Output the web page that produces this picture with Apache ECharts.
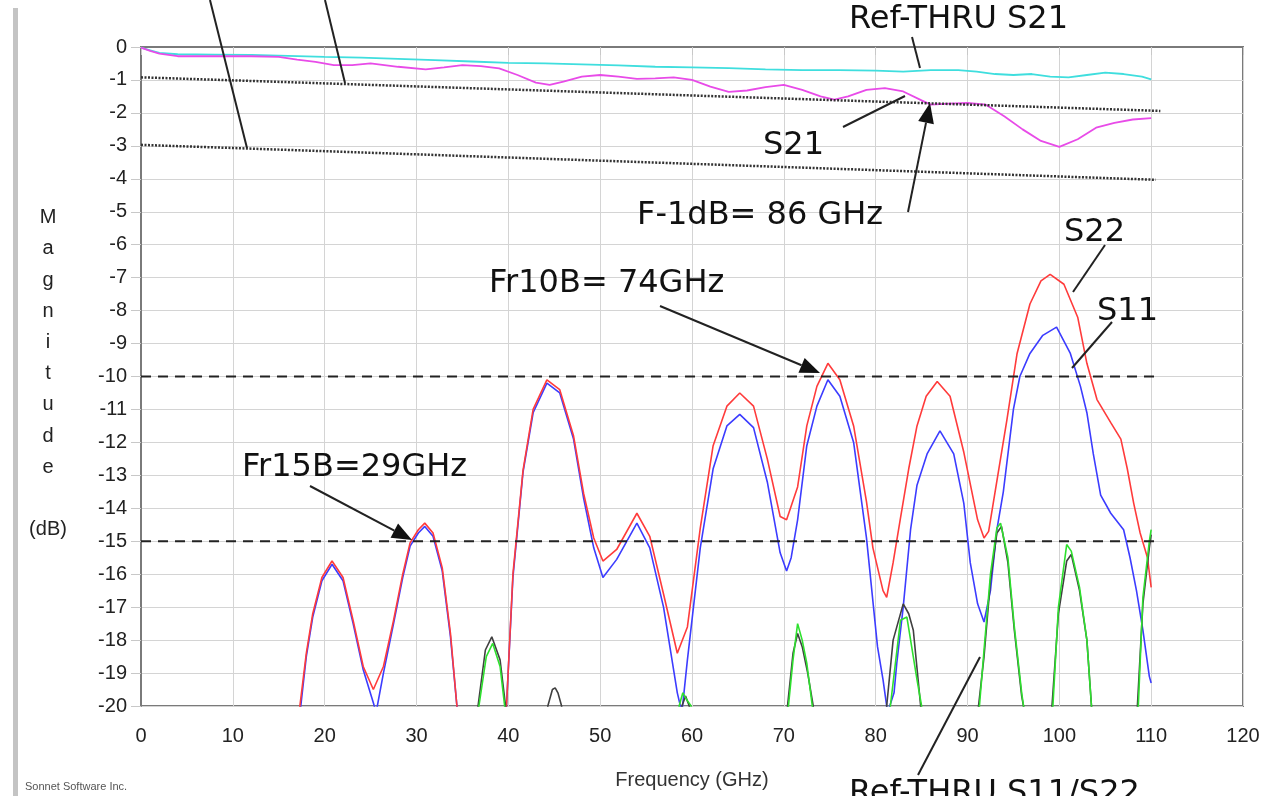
<!DOCTYPE html>
<html><head><meta charset="utf-8">
<script src="https://cdn.jsdelivr.net/npm/echarts@6/dist/echarts.min.js"></script>
<style>html,body{margin:0;padding:0;background:#fff}#c{width:1268px;height:796px}</style>
</head><body><div id="c"></div>
<script>
// ---- data (GHz, dB) ----
const refThruS21 = [[0,-0.02],[1,-0.1],[2,-0.18],[4,-0.22],[8,-0.23],[12,-0.24],[16,-0.27],[20,-0.3],[24,-0.32],[28,-0.36],[32,-0.4],[36,-0.44],[40,-0.48],[44,-0.5],[48,-0.53],[52,-0.56],[56,-0.6],[60,-0.62],[64,-0.64],[68,-0.68],[72,-0.7],[76,-0.7],[80,-0.72],[83,-0.75],[86,-0.7],[89,-0.7],[91,-0.75],[93,-0.82],[95,-0.85],[97,-0.82],[99,-0.9],[101,-0.92],[103,-0.85],[105,-0.78],[107,-0.82],[109,-0.9],[110,-0.98]];
const s21 = [[0,-0.02],[1,-0.12],[2,-0.2],[4,-0.28],[8,-0.28],[12,-0.28],[15,-0.3],[17,-0.38],[19,-0.45],[21,-0.55],[23,-0.55],[25,-0.5],[28,-0.6],[31,-0.68],[33,-0.62],[35,-0.55],[37,-0.58],[39,-0.65],[41,-0.85],[43,-1.08],[44.5,-1.15],[46,-1.05],[48,-0.9],[50,-0.85],[52,-0.9],[54,-0.97],[56,-0.95],[58,-0.92],[60,-1.0],[62,-1.2],[64,-1.36],[66,-1.32],[68,-1.22],[70,-1.15],[72,-1.3],[74,-1.5],[75.5,-1.6],[77,-1.5],[79,-1.3],[81,-1.25],[83,-1.35],[85,-1.62],[86,-1.75],[88,-1.72],[90,-1.7],[92,-1.75],[94,-2.1],[96,-2.5],[98,-2.85],[100,-3.03],[102,-2.8],[104,-2.45],[106,-2.3],[108,-2.2],[110,-2.16]];
const s22 = [[16.5,-23],[17.3,-20],[18,-18.4],[18.7,-17.2],[19.7,-16.1],[20.8,-15.6],[22,-16.1],[23.1,-17.4],[24.2,-18.8],[25.3,-19.5],[26.4,-18.8],[27.5,-17.4],[28.5,-16],[29.3,-15.05],[30.2,-14.65],[30.9,-14.45],[31.8,-14.75],[32.8,-15.8],[33.7,-17.8],[34.4,-20],[35,-23],[39.2,-23],[39.8,-20],[40.5,-16],[41.6,-12.85],[42.7,-11],[44.2,-10.1],[45.6,-10.4],[47.1,-11.8],[48.2,-13.55],[49.3,-14.9],[50.3,-15.6],[51.8,-15.25],[54,-14.15],[55.4,-14.85],[56.9,-16.6],[58.4,-18.4],[59.5,-17.6],[60.9,-14.6],[62.3,-12.1],[63.8,-10.9],[65.2,-10.5],[66.7,-10.9],[68.2,-12.5],[69.6,-14.25],[70.3,-14.35],[71.5,-13.35],[72.5,-11.5],[73.6,-10.3],[74.8,-9.6],[76.1,-10.1],[77.6,-11.5],[79,-13.8],[79.7,-15.2],[80.8,-16.5],[81.2,-16.7],[81.9,-15.65],[82.7,-14.3],[83.6,-12.8],[84.5,-11.5],[85.5,-10.6],[86.7,-10.15],[88.1,-10.6],[89.6,-12.3],[91.1,-14.35],[91.8,-14.9],[92.3,-14.7],[92.8,-13.85],[94.3,-11.3],[95.4,-9.3],[96.8,-7.8],[98,-7.1],[99,-6.9],[100.5,-7.2],[102,-8.2],[103,-9.6],[104.1,-10.7],[105.6,-11.4],[106.7,-11.9],[107.4,-12.8],[108.1,-13.85],[108.8,-14.75],[109.6,-15.5],[110,-16.4]];
const s11 = [[16.6,-23],[17.4,-20],[18,-18.5],[18.7,-17.3],[19.7,-16.2],[20.8,-15.7],[22,-16.2],[23.1,-17.5],[24.2,-18.9],[25.3,-19.9],[25.6,-20.2],[26.4,-19.0],[27.5,-17.5],[28.5,-16.1],[29.3,-15.15],[30.2,-14.75],[30.9,-14.55],[31.8,-14.85],[32.8,-15.9],[33.7,-17.9],[34.4,-20],[35,-23],[39.2,-23],[39.8,-20],[40.5,-16.1],[41.6,-12.9],[42.7,-11.1],[44.2,-10.2],[45.6,-10.5],[47.1,-11.9],[48.2,-13.7],[49.3,-15.2],[50.3,-16.1],[51.8,-15.55],[54,-14.45],[55.4,-15.2],[56.9,-17],[58.4,-19.6],[58.9,-20.2],[59.5,-18.6],[60.9,-15.2],[62.3,-12.8],[63.8,-11.5],[65.2,-11.15],[66.7,-11.55],[68.2,-13.2],[69.6,-15.35],[70.3,-15.9],[70.8,-15.5],[71.5,-14.35],[72.5,-12.1],[73.6,-10.9],[74.8,-10.1],[76.1,-10.6],[77.6,-12],[79,-14.9],[80.2,-18.2],[80.8,-19.2],[81.3,-20.2],[82,-19.6],[82.3,-18.7],[83,-17],[83.8,-14.65],[84.5,-13.3],[85.6,-12.35],[87,-11.65],[88.5,-12.35],[89.6,-13.85],[90.3,-15.65],[91.1,-16.9],[91.8,-17.45],[92.5,-16.5],[93.2,-14.65],[93.9,-13.5],[95,-11],[95.7,-10],[96.8,-9.3],[98.2,-8.75],[99.7,-8.5],[101.2,-9.3],[102.3,-10.3],[103,-11.1],[103.7,-12.35],[104.5,-13.6],[105.6,-14.15],[107,-14.65],[107.7,-15.5],[108.4,-16.5],[109.1,-17.7],[109.8,-19.1],[110,-19.3]];
const refThruS11 = [[36,-23],[36.7,-20],[37.5,-18.3],[38.2,-17.9],[39.1,-18.6],[39.7,-20],[40.2,-23],[44,-23],[44.3,-20],[44.8,-19.5],[45.1,-19.45],[45.4,-19.6],[45.8,-20],[46.2,-23],[58.6,-23],[58.9,-20],[59.3,-19.7],[59.7,-20],[60,-23],[70,-23],[70.4,-20],[71,-18.4],[71.5,-17.8],[72,-18.2],[72.6,-19],[73.2,-20],[73.6,-23],[80.8,-23],[81.2,-20],[81.9,-18],[83,-16.9],[83.6,-17.2],[84.1,-17.7],[84.9,-20],[85.3,-23],[90.8,-23],[91.2,-20],[91.8,-18.5],[92.5,-16.2],[93.2,-14.75],[93.7,-14.55],[94.4,-15.65],[95.1,-17.7],[95.9,-19.7],[96.1,-20],[96.5,-23],[98.8,-23],[99.2,-20],[99.9,-17.2],[100.8,-15.6],[101.3,-15.4],[102.2,-16.5],[103,-18],[103.5,-20],[103.9,-23],[108.1,-23],[108.5,-20],[109.1,-16.9],[109.8,-15.2],[110,-14.8]];
const refThruS22 = [[36.1,-23],[36.8,-20],[37.6,-18.5],[38.3,-18.1],[39.1,-18.8],[39.6,-20],[40.1,-23],[58.2,-23],[58.6,-20],[59,-19.6],[59.4,-19.8],[59.9,-20],[60.3,-23],[70.1,-23],[70.5,-20],[71,-18.6],[71.5,-17.5],[72,-18.0],[72.5,-18.7],[73.1,-20],[73.5,-23],[81.2,-23],[81.6,-20],[82.7,-17.4],[83.4,-17.3],[84.5,-19.2],[85,-20],[85.4,-23],[90.9,-23],[91.3,-20],[91.8,-18.3],[92.5,-16],[93.2,-14.6],[93.6,-14.45],[94.4,-15.5],[95.1,-17.6],[95.9,-19.6],[96.1,-20],[96.5,-23],[98.9,-23],[99.3,-20],[99.9,-17],[100.8,-15.1],[101.3,-15.3],[102.2,-16.4],[103,-18],[103.5,-20],[103.9,-23],[108.2,-23],[108.6,-20],[109.1,-16.7],[109.8,-15],[110,-14.65]];
const ref1dB = [[0,-0.92],[111,-1.94]];
const ref3dB = [[0,-2.97],[110.5,-4.03]];
const lvl10 = [[0,-10],[110.5,-10]];
const lvl15 = [[0,-15],[110.5,-15]];

const chart = echarts.init(document.getElementById('c'), null, {renderer:'canvas'});

function ln(data, color, w, type, z){
  return {type:'line', data:data, symbol:'none', clip:true, z:z||2, silent:true,
    lineStyle:{color:color, width:w, type:type||'solid'}};
}
const TF = 'DejaVu Sans, Verdana, sans-serif';
function txt(x,y,s){ return {type:'text', x:x, y:y, z:100, style:{text:s, fill:'#111', font:'32px '+TF, textVerticalAlign:'middle'}}; }
function seg(x1,y1,x2,y2){ return {type:'line', z:100, shape:{x1:x1,y1:y1,x2:x2,y2:y2}, style:{stroke:'#222', lineWidth:2}}; }
function arr(x1,y1,x2,y2){
  const a=Math.atan2(y2-y1,x2-x1), L=20, W=8;
  const bx=x2-L*Math.cos(a), by=y2-L*Math.sin(a);
  return [seg(x1,y1,bx,by),
    {type:'polygon', z:100, shape:{points:[[x2,y2],[bx+W*Math.sin(a),by-W*Math.cos(a)],[bx-W*Math.sin(a),by+W*Math.cos(a)]]}, style:{fill:'#111'}}];
}

const AF = 'Liberation Sans, Arial, sans-serif';
chart.setOption({
  backgroundColor:'#fff',
  animation:false,
  grid:{left:141, top:47, right:25, bottom:90, containLabel:false, outerBoundsMode:'none', show:true, borderColor:'#7a7a7a', borderWidth:2, backgroundColor:'transparent'},
  xAxis:{type:'value', min:0, max:120, interval:10,
    name:'Frequency (GHz)', nameLocation:'middle', nameGap:64,
    nameTextStyle:{fontFamily:AF, fontSize:20, color:'#333'},
    axisLine:{show:true, lineStyle:{color:'#7a7a7a', width:2}},
    axisTick:{show:true, length:8, lineStyle:{color:'#c8c8c8'}},
    axisLabel:{fontFamily:AF, fontSize:20, color:'#222', margin:20},
    splitLine:{show:true, lineStyle:{color:'#d4d4d4', width:1}}},
  yAxis:{type:'value', min:-20, max:0, interval:1,
    axisLine:{show:true, lineStyle:{color:'#7a7a7a', width:2}},
    axisTick:{show:true, length:10, lineStyle:{color:'#c8c8c8'}},
    axisLabel:{fontFamily:AF, fontSize:20, color:'#222', margin:14},
    splitLine:{show:true, lineStyle:{color:'#d4d4d4', width:1}}},
  series:[
    ln(refThruS21, '#3fdede', 1.8),
    ln(s21, '#e84be8', 1.8),
    ln(s11, '#3c3cff', 1.6),
    ln(s22, '#ff3b3b', 1.6),
    ln(refThruS11, '#404040', 1.6),
    ln(refThruS22, '#2ee02e', 1.6),
    ln(ref1dB, '#333', 2.5, [2,1.5], 5),
    ln(ref3dB, '#333', 2.5, [2,1.5], 5),
    ln(lvl10, '#222', 2, [10,7], 5),
    ln(lvl15, '#222', 2, [10,7], 5)
  ],
  graphic:[].concat(
    [{type:'rect', z:100, shape:{x:13, y:8, width:5, height:788}, style:{fill:'#c4c4c4'}},
     {type:'text', x:48, y:202, z:100, style:{text:'M\na\ng\nn\ni\nt\nu\nd\ne\n\n(dB)', fill:'#222', font:'20px '+AF, textAlign:'center', lineHeight:31.2}},
     {type:'text', x:25, y:787, z:100, style:{text:'Sonnet Software Inc.', fill:'#555', font:'11px '+AF, textVerticalAlign:'middle'}},
     txt(849,20,'Ref-THRU S21'), txt(763,146,'S21'), txt(637,216,'F-1dB= 86 GHz'),
     txt(1064,233,'S22'), txt(1097,312,'S11'), txt(489,284,'Fr10B= 74GHz'),
     txt(242,468,'Fr15B=29GHz'), txt(849,794,'Ref-THRU S11/S22'),
     seg(912,37,920,68), seg(843,127,905,96), seg(1105,245,1073,292), seg(1112,322,1072,368),
     seg(918,775,980,657), seg(210,0,247,148), seg(325,0,345,83)],
    arr(908,212,930,103), arr(660,306,820,373), arr(310,486,412,540)
  )
});
</script></body></html>
